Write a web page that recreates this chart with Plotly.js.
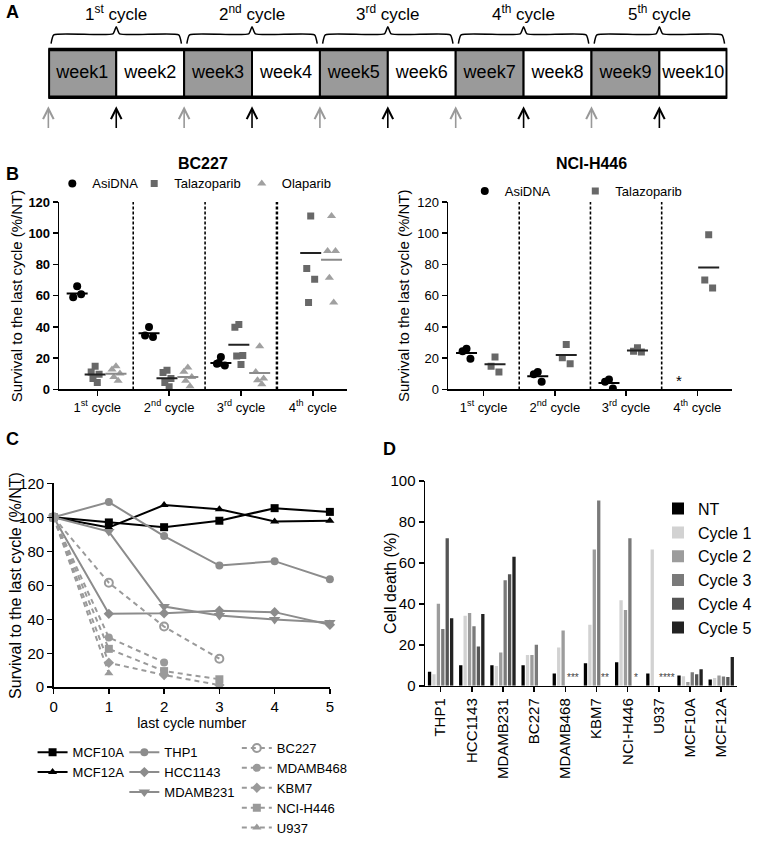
<!DOCTYPE html>
<html>
<head>
<meta charset="utf-8">
<script src="https://cdn.plot.ly/plotly-3.0.1.min.js"></script>
<style>
  body { margin: 0; background: #fff; }
  #fig { width: 757px; height: 843px; }
</style>
</head>
<body>
<div id="fig"></div>
<script>
const FONT = "Liberation Sans, Arial, sans-serif";
const W = 757, H = 843;
const px = v => v / W;
const py = v => 1 - v / H;

// ---------- panel A : schedule ----------
const weeks = ["week1", "week2", "week3", "week4", "week5", "week6", "week7", "week8", "week9", "week10"];
const cycleNames = ["1<sup>st</sup> cycle", "2<sup>nd</sup> cycle", "3<sup>rd</sup> cycle", "4<sup>th</sup> cycle", "5<sup>th</sup> cycle"];
const treatStart = [0, 2, 4, 6, 8];   // grey arrows
const harvest = [1, 3, 5, 7, 9];      // black arrows

// ---------- panel B : survival per cycle ----------
const bCycles = [1, 2, 3, 4];
const bcAsi  = [[66, 59, 61], [40, 34.5, 33.5], [20.7, 16.5, 15.4, 17], []];
const bcTala = [[14.8, 11.2, 9.7, 7, 4.4], [12.3, 10.8, 7, 4.4, 1.7], [41.5, 39.8, 21.8, 21.4, 16], [111, 77.5, 70.5, 55.7]];
const bcOla  = [[14.8, 12.7, 10.2, 8, 5.5], [14, 11.4, 8, 5.5, 2.1], [27.7, 11.2, 7, 5.9, 3.4], [111, 88.7, 88.7, 71.5, 55.7]];
const bcAsiMean  = [61.5, 36, 17, null];
const bcTalaMean = [9.5, 7.2, 28.6, 87.4];
const bcOlaMean  = [10, 8, 10.6, 83];

const nciAsi  = [[26, 24.5, 19.7], [11.2, 9.7, 4.9], [6.3, 4.9, 0.6], []];
const nciTala = [[20.7, 14.8, 11.2], [28.8, 20.3, 16.5], [26.7, 24.5, 24], [99, 70, 65]];
const nciAsiMean  = [23.3, 8.5, 4.2, null];
const nciTalaMean = [16.1, 22, 25, 78];
const nciAsiStar = { cycle: 4, value: 6 };

// ---------- panel C : survival vs last cycle ----------
const lastCycle = [0, 1, 2, 3, 4, 5];
const survC = {
  "MCF10A":   [100, 97, 94.2, 98, 105.4, 103.2],
  "MCF12A":   [100, 94, 107.2, 104.8, 97.6, 98],
  "THP1":     [100, 109, 89, 71.6, 74.2, 63.6],
  "HCC1143":  [100, 43.2, 43.5, 45, 44.2, 36.8],
  "MDAMB231": [100, 91.6, 47.5, 42.2, 39.9, 38.1],
  "BC227":    [100, 61.5, 35.7, 16.8],
  "MDAMB468": [100, 29.3, 14.6],
  "KBM7":     [100, 14.4, 7.2, 1.3],
  "NCI-H446": [100, 22.6, 9.5, 4.7],
  "U937":     [100, 8.2]
};

// ---------- panel D : cell death ----------
const cellLines = ["THP1", "HCC1143", "MDAMB231", "BC227", "MDAMB468", "KBM7", "NCI-H446", "U937", "MCF10A", "MCF12A"];
const deathNT = [6.9, 10, 10, 10, 6, 11, 11.5, 6, 5, 3];
const deathC1 = [5.6, 34.2, 9.7, 15, 18.7, 29.8, 41.8, 66.5, 4.6, 3.8];
const deathC2 = [40, 35.5, 16.2, 15, 27, 66.5, 37, null, 1.8, 5];
const deathC3 = [27.7, 29, 51.5, 20, null, 90.5, 72, null, 6.6, 4.5];
const deathC4 = [72, 19.2, 54.5, null, null, null, null, null, 5.6, 4.3];
const deathC5 = [33, 35, 63, null, null, null, null, null, 8, 14];
const deathStars = [["MDAMB468", "***"], ["KBM7", "**"], ["NCI-H446", "*"], ["U937", "****"]];

const traces = [];
const annotations = [];
const shapes = [];

// ----- A -----
traces.push({
  type: "bar", x: weeks.map((_, i) => i + 0.5), y: weeks.map(() => 1), base: 0, width: 1,
  xaxis: "x5", yaxis: "y5", showlegend: false, hoverinfo: "skip",
  marker: { color: weeks.map((_, i) => i % 2 === 0 ? "#9a9a9a" : "#ffffff"), line: { color: "#000", width: 2 } }
});
traces.push({
  type: "scatter", mode: "text", x: weeks.map((_, i) => i + 0.5), y: weeks.map(() => 0.5), text: weeks,
  xaxis: "x5", yaxis: "y5", showlegend: false, hoverinfo: "skip",
  textfont: { family: FONT, size: 18, color: "#000" }
});
shapes.push({ type: "rect", xref: "x5", yref: "y5", x0: 0, x1: weeks.length, y0: 0, y1: 1, line: { color: "#000", width: 3.5 } });
const braceX = [], braceY = [];
cycleNames.forEach((name, c) => {
  const x0 = 2 * c + 0.04, x1 = 2 * c + 1.96, mid = 2 * c + 1;
  braceX.push(x0, x0 + 0.04, mid - 0.05, mid, mid + 0.05, x1 - 0.04, x1, null);
  braceY.push(1.125, 1.31, 1.33, 1.48, 1.33, 1.31, 1.125, null);
  annotations.push({ xref: "x5", yref: "y5", x: mid, y: 1.77, text: name, showarrow: false,
    xanchor: "center", yanchor: "middle", font: { family: FONT, size: 17, color: "#000" } });
});
traces.push({ type: "scatter", mode: "lines", x: braceX, y: braceY, xaxis: "x5", yaxis: "y5",
  line: { color: "#000", width: 1.5, shape: "spline", smoothing: 0.5 }, showlegend: false, hoverinfo: "skip" });
[[treatStart, "#999999"], [harvest, "#000000"]].forEach(([xs, col]) => xs.forEach(x => {
  annotations.push({ xref: "x5", yref: "y5", axref: "x5", ayref: "y5", x: x, y: -0.19, ax: x, ay: -0.68,
    text: "", showarrow: true, arrowhead: 5, arrowsize: 1.3, arrowwidth: 1.6, arrowcolor: col });
}));

// ----- B -----
const spread = [0, -0.055, 0.055, -0.03, 0.03];
function dots(groups, off, name, symbol, color, size, xa, ya, leg) {
  const xs = [], ys = [];
  groups.forEach((vals, ci) => vals.forEach((v, i) => { xs.push(bCycles[ci] + off + spread[i % spread.length]); ys.push(v); }));
  return { type: "scatter", mode: "markers", x: xs, y: ys, xaxis: xa, yaxis: ya, name: name, legend: leg,
    marker: { symbol: symbol, color: color, size: size }, hoverinfo: "skip" };
}
function means(vals, off, color, xa, ya) {
  return { type: "scatter", mode: "markers", x: bCycles.map(c => c + off), y: vals, xaxis: xa, yaxis: ya,
    marker: { symbol: "line-ew", size: 15, line: { width: 2, color: color } }, showlegend: false, hoverinfo: "skip" };
}
traces.push(dots(bcAsi, -0.28, "AsiDNA", "circle", "#000", 8, "x", "y", "legend"));
traces.push(dots(bcTala, -0.03, "Talazoparib", "square", "#686868", 7, "x", "y", "legend2"));
traces.push(dots(bcOla, 0.26, "Olaparib", "triangle-up", "#a0a0a0", 8, "x", "y", "legend3"));
traces.push(means(bcAsiMean, -0.28, "#000", "x", "y"));
traces.push(means(bcTalaMean, -0.03, "#222", "x", "y"));
traces.push(means(bcOlaMean, 0.26, "#8a8a8a", "x", "y"));

traces.push(dots(nciAsi, -0.24, "AsiDNA", "circle", "#000", 8, "x2", "y2", "legend4"));
traces.push(dots(nciTala, 0.16, "Talazoparib", "square", "#686868", 7, "x2", "y2", "legend5"));
traces.push(means(nciAsiMean, -0.24, "#000", "x2", "y2"));
traces.push(means(nciTalaMean, 0.16, "#222", "x2", "y2"));
annotations.push({ xref: "x2", yref: "y2", x: nciAsiStar.cycle - 0.25, y: nciAsiStar.value, text: "*",
  xanchor: "center", yanchor: "middle", showarrow: false, font: { family: FONT, size: 15, color: "#000" } });

bCycles.slice(0, -1).forEach(c => {
  ["", "2"].forEach(s => shapes.push({ type: "line", xref: "x" + s, yref: "y" + s, x0: c + 0.5, x1: c + 0.5, y0: 0, y1: 120,
    line: { color: "#000", width: c === 3 && s === "" ? 2.5 : 1.6, dash: "3px,2px" } }));
});

// ----- C -----
const cStyle = {
  "MCF10A":   ["#000", "square", "solid", "legend6"],
  "MCF12A":   ["#000", "triangle-up", "solid", "legend6"],
  "THP1":     ["#8c8c8c", "circle", "solid", "legend7"],
  "HCC1143":  ["#8c8c8c", "diamond", "solid", "legend7"],
  "MDAMB231": ["#8c8c8c", "triangle-down", "solid", "legend7"],
  "BC227":    ["#9a9a9a", "circle-open", "5px,4px", "legend8"],
  "MDAMB468": ["#9a9a9a", "circle", "5px,4px", "legend8"],
  "KBM7":     ["#9a9a9a", "diamond", "5px,4px", "legend8"],
  "NCI-H446": ["#9a9a9a", "square", "5px,4px", "legend8"],
  "U937":     ["#9a9a9a", "triangle-up", "5px,4px", "legend8"]
};
Object.keys(survC).forEach(name => {
  const [col, sym, dash, leg] = cStyle[name];
  traces.push({ type: "scatter", mode: "lines+markers", name: name, legend: leg,
    x: lastCycle.slice(0, survC[name].length), y: survC[name], xaxis: "x3", yaxis: "y3", cliponaxis: false,
    line: { color: col, width: 2, dash: dash },
    marker: { symbol: sym, size: sym === "triangle-down" ? 10 : 8, color: col, line: { color: col, width: sym === "circle-open" ? 2 : 0 } },
    hoverinfo: "skip" });
});

// ----- D -----
const dSeries = [["NT", deathNT, "#000000"], ["Cycle 1", deathC1, "#d2d2d2"], ["Cycle 2", deathC2, "#9c9c9c"],
                 ["Cycle 3", deathC3, "#7a7a7a"], ["Cycle 4", deathC4, "#555555"], ["Cycle 5", deathC5, "#222222"]];
dSeries.forEach(([name, vals, col]) => traces.push({ type: "bar", name: name, legend: "legend9",
  x: cellLines, y: vals, xaxis: "x4", yaxis: "y4", marker: { color: col }, hoverinfo: "skip" }));
deathStars.forEach(([cat, txt]) => annotations.push({ xref: "x4", yref: "y4", x: cat, y: 0, xanchor: "center", yanchor: "bottom",
  xshift: 8, yshift: 1, text: txt, showarrow: false, font: { family: FONT, size: 10, color: "#444" } }));

// ----- titles, panel letters and y titles (paper coords) -----
const paperText = (t, x, y, size, opts) => annotations.push(Object.assign({ xref: "paper", yref: "paper",
  x: px(x), y: py(y), text: t, showarrow: false, xanchor: "center", yanchor: "middle",
  font: { family: FONT, size: size, color: "#000" } }, opts || {}));
paperText("<b>BC227</b>", 206, 165, 16);
paperText("<b>NCI-H446</b>", 599, 165, 16);
[["A", 4, 12], ["B", 4, 175], ["C", 4, 443], ["D", 386, 453]].forEach(([t, x, y]) =>
  paperText("<b>" + t + "</b>", x, y, 18, { xanchor: "left" }));
[["Survival to the last cycle (%/NT)", 17, 298, 15], ["Survival to the last cycle (%/NT)", 409, 298, 15],
 ["Survival to the last cycle (%/NT)", 15, 590, 16], ["Cell death (%)", 395, 588, 16]].forEach(([t, x, y, s]) =>
  paperText(t, x, y, s, { textangle: -90 }));

// ----- axes -----
const base = { showgrid: false, zeroline: false, showline: true, linecolor: "#000", linewidth: 1.5,
  ticks: "outside", ticklen: 5, tickwidth: 1.5, tickcolor: "#000", fixedrange: true };

const layout = {
  width: W, height: H, margin: { l: 0, r: 0, t: 0, b: 0 },
  paper_bgcolor: "#fff", plot_bgcolor: "#fff",
  font: { family: FONT, color: "#000" },
  barmode: "group", bargap: 0.15, bargroupgap: 0.25,
  xaxis: Object.assign({}, base, { domain: [px(60), px(352)], range: [0.47, 4.48], anchor: "y",
    tickvals: bCycles, ticktext: cycleNames.slice(0, 4), tickfont: { size: 13 } }),
  yaxis: Object.assign({}, base, { domain: [py(392.7), py(203.7)], range: [0, 120], dtick: 20, anchor: "x",
    tickfont: { size: 13, weight: "bold" } }),
  xaxis2: Object.assign({}, base, { domain: [px(454), px(742)], range: [0.5, 4.49], anchor: "y2",
    tickvals: bCycles, ticktext: cycleNames.slice(0, 4), tickfont: { size: 13 } }),
  yaxis2: Object.assign({}, base, { domain: [py(392.7), py(203.7)], range: [0, 120], dtick: 20, anchor: "x2",
    tickfont: { size: 13 } }),
  xaxis3: Object.assign({}, base, { domain: [px(54.3), px(334.3)], range: [0, 5], dtick: 1, anchor: "y3",
    tickfont: { size: 15 }, title: { text: "last cycle number", font: { size: 14 }, standoff: 4 } }),
  yaxis3: Object.assign({}, base, { domain: [py(693), py(487.4)], range: [0, 120], dtick: 20, anchor: "x3",
    tickfont: { size: 15 } }),
  xaxis4: Object.assign({}, base, { domain: [px(430.7), px(746.7)], range: [-0.5, 9.5], anchor: "y4",
    type: "category", tickangle: -90, tickfont: { size: 15 } }),
  yaxis4: Object.assign({}, base, { domain: [py(691.5), py(485)], range: [0, 100], dtick: 20, anchor: "x4",
    tickfont: { size: 15 } }),
  xaxis5: { domain: [px(49), px(737)], range: [0, 10], visible: false, fixedrange: true, anchor: "y5" },
  yaxis5: { domain: [py(135), 1], range: [-0.771, 2.042], visible: false, fixedrange: true, anchor: "x5" },
  shapes: shapes,
  annotations: annotations
};

// legends
const legOne = (x, y, size) => ({ x: px(x), y: py(y), xanchor: "left", yanchor: "middle", bgcolor: "rgba(0,0,0,0)",
  font: { family: FONT, size: size, color: "#000" }, orientation: "v" });
layout.legend  = legOne(53, 185, 13);
layout.legend2 = legOne(136, 185, 13);
layout.legend3 = legOne(245, 185, 13);
layout.legend4 = legOne(471, 192.7, 13);
layout.legend5 = legOne(583, 192.7, 13);
const legCol = (x, y, size) => ({ x: px(x), y: py(y), xanchor: "left", yanchor: "top", bgcolor: "rgba(0,0,0,0)",
  font: { family: FONT, size: size, color: "#000" }, orientation: "v", tracegroupgap: 0 });
layout.legend6 = legCol(33, 743.4, 13);
layout.legend7 = legCol(126, 743.4, 13);
layout.legend8 = legCol(240, 739.4, 13);
layout.legend9 = legCol(667, 495.8, 16);

Plotly.newPlot("fig", traces, layout, { staticPlot: true });
</script>
</body>
</html>
